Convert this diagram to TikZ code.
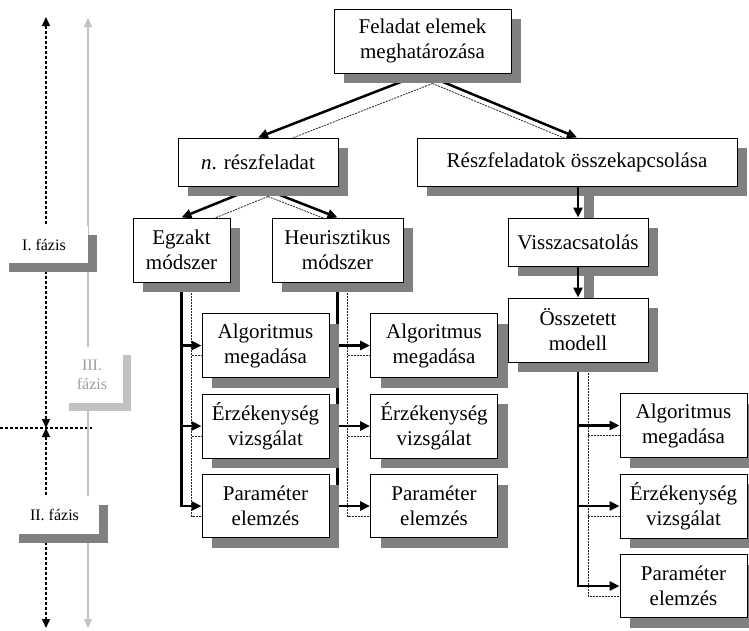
\documentclass[tikz,border=0pt]{standalone}
\usepackage{fontspec}
\setmainfont{Liberation Serif}
\usetikzlibrary{arrows.meta,shadows,calc}
\pgfdeclarelayer{back}
\pgfsetlayers{back,main}
\definecolor{sgray}{gray}{0.5}
\definecolor{lgray}{gray}{0.76}
\definecolor{ltext}{gray}{0.62}

\begin{document}
\begin{tikzpicture}[x=1pt, y=-1pt,
		box/.style={draw, line width=1pt, fill=white, inner sep=0pt, align=center,
			font=\fontsize{21}{25}\selectfont,
			general shadow={fill=sgray, shadow xshift=10pt, shadow yshift=-10pt}},
		phasebox/.style={fill=white, inner sep=0pt, align=center, font=\fontsize{16}{19}\selectfont},
		shdark/.style={general shadow={fill=sgray, shadow xshift=9pt, shadow yshift=-9pt}},
		shlight/.style={general shadow={fill=lgray, shadow xshift=8pt, shadow yshift=-8pt}},
		conn/.style={line width=2.5pt, -{Triangle[length=10pt,width=9pt]}},
		shconn/.style={line width=0.8pt, dash pattern=on 2pt off 1pt, black!85},
		phase/.style={line width=1.4pt, dash pattern=on 3pt off 2pt},
		tips/.style={{Triangle[length=9pt,width=8pt]}-{Triangle[length=9pt,width=8pt]}}]
	\useasboundingbox (0,0) rectangle (749,630);

	\coordinate (p1) at (46,17);
	\coordinate (p2) at (46,428);
	\coordinate (p3) at (46,628);
	\coordinate (g1) at (88,18);
	\coordinate (g2) at (88,628);
	\coordinate (hl) at (0,428);
	\coordinate (hr) at (92,428);

	\draw [phase, tips] (p1) -- (p2);
	\draw [phase, tips] (p2) -- (p3);
	\draw [phase] (hl) -- (hr);
	\draw [line width=1.3pt, lgray, tips] (g1) -- (g2);

	\node [phasebox, shdark, minimum width=88, minimum height=37] (f1) at (44,244.5) {I. fázis};
	\node [phasebox, shlight, minimum width=62, minimum height=56, text=ltext] (f3) at (92,375) {III.\\fázis};
	\node [phasebox, shdark, minimum width=89, minimum height=38] (f2) at (54.5,515) {II. fázis};

	\node [box, minimum width=177, minimum height=64] (fea) at (422.5,41) {Feladat elemek\\meghatározása};
	\node [box, minimum width=160, minimum height=48] (nresz) at (258,162) {\textit{n}. részfeladat};
	\node [box, minimum width=320, minimum height=48] (osszek) at (577,162) {Részfeladatok összekapcsolása};
	\node [box, minimum width=97, minimum height=64] (egz) at (181.5,250) {Egzakt\\módszer};
	\node [box, minimum width=131, minimum height=64] (heur) at (337.5,250) {Heurisztikus\\módszer};
	\node [box, minimum width=140, minimum height=48] (vissza) at (578,242) {Visszacsatolás};
	\node [box, minimum width=140, minimum height=64] (ossz) at (578,330) {Összetett\\modell};

	\foreach \c/\x/\y in {e/265.5/0, h/434/0, o/683.5/80} {
		\node [box, minimum width=127, minimum height=64] (\c1) at (\x,345.5+\y) {Algoritmus\\megadása};
		\node [box, minimum width=127, minimum height=64] (\c2) at (\x,426+\y) {Érzékenység\\vizsgálat};
		\node [box, minimum width=127, minimum height=63] (\c3) at (\x,506+\y) {Paraméter\\elemzés};
	}

	\begin{pgfonlayer}{back}
		\draw [conn] (fea.south) -- (nresz.north);
		\draw [conn] (fea.south) -- (osszek.north);
		\draw [shconn] ($(fea.south)+(10,10)$) -- ($(nresz.north)+(10,10)$);
		\draw [shconn] ($(fea.south)+(10,10)$) -- ($(osszek.north)+(10,10)$);

		\draw [conn] (nresz.south) -- (egz.north);
		\draw [conn] (nresz.south) -- (heur.north);
		\draw [shconn] ($(nresz.south)+(10,10)$) -- ($(egz.north)+(10,10)$);
		\draw [shconn] ($(nresz.south)+(10,10)$) -- ($(heur.north)+(10,10)$);

		\foreach \p/\c in {egz/e, heur/h, ossz/o} {
			\draw [shconn] ($(\p.south)+(10,10)$) |- ($(\c3.west)+(0,10)$);
			\draw [shconn] ($(\p.south |- \c1.west)+(10,10)$) -- ($(\c1.west)+(0,10)$);
			\draw [shconn] ($(\p.south |- \c2.west)+(10,10)$) -- ($(\c2.west)+(0,10)$);
			\draw [conn] (\p.south) |- (\c3.west);
			\draw [conn] (\p.south |- \c1.west) -- (\c1.west);
			\draw [conn] (\p.south |- \c2.west) -- (\c2.west);
		}

		\draw [line width=10pt, sgray] ($(vissza.north |- osszek.south)+(11,0)$) -- ($(vissza.north)+(11,0)$);
		\draw [line width=10pt, sgray] ($(vissza.south)+(11,0)$) -- ($(ossz.north)+(11,0)$);
	\end{pgfonlayer}

	\draw [conn] (vissza.north |- osszek.south) -- (vissza.north);
	\draw [conn] (vissza.south) -- (ossz.north);
\end{tikzpicture}
\end{document}
